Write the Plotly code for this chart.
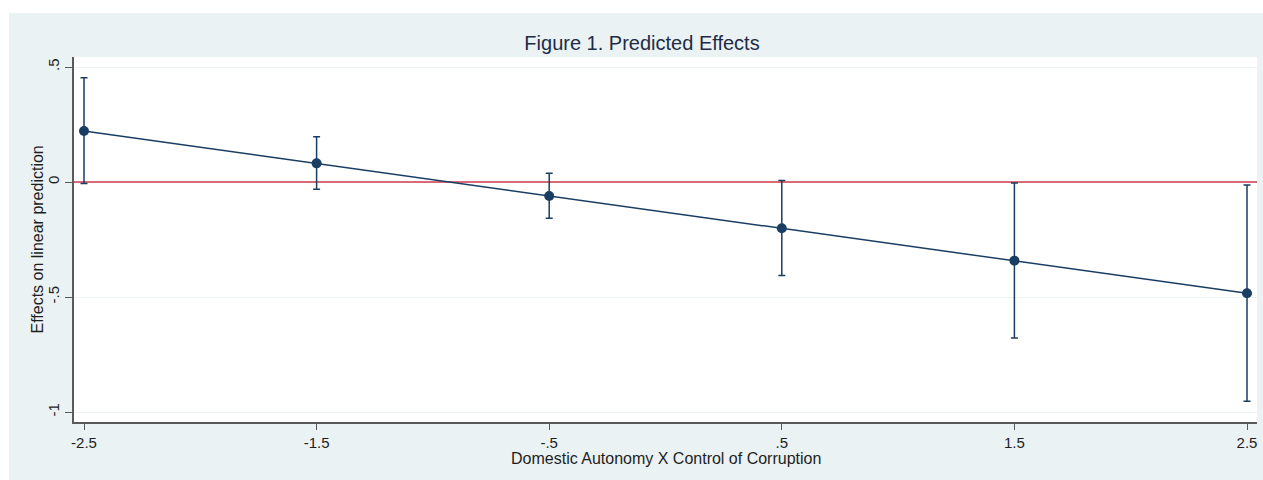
import plotly.graph_objects as go

# Marginal effects at each value of the moderator
x_vals = [-2.5, -1.5, -0.5, 0.5, 1.5, 2.5]
effects = [0.222, 0.081, -0.061, -0.201, -0.342, -0.484]
ci_upper = [0.453, 0.197, 0.038, 0.006, -0.004, -0.013]
ci_lower = [-0.006, -0.032, -0.158, -0.407, -0.678, -0.953]

x_ticks = [-2.5, -1.5, -0.5, 0.5, 1.5, 2.5]
x_tick_text = ["-2.5", "-1.5", "-.5", ".5", "1.5", "2.5"]
y_ticks = [0.5, 0, -0.5, -1]
y_tick_text = [".5", "0", "-.5", "-1"]

x_range = [-2.543, 2.543]
y_range = [-1.0435, 0.5435]

NAVY = "#1a3d63"
RED = "#cf3a4c"
BG = "#eaf2f3"
FONT = "Liberation Sans, Arial, sans-serif"
TXT = "#1e1e1e"

W, H = 1263, 480
L, R, T, B = 74, 6, 57, 58
PW, PH = W - L - R, H - T - B

err_plus = [u - e for u, e in zip(ci_upper, effects)]
err_minus = [e - l for e, l in zip(effects, ci_lower)]

fig = go.Figure()

# zero reference line
fig.add_trace(go.Scatter(
    x=x_range, y=[0, 0], mode="lines",
    line=dict(color=RED, width=1.6), hoverinfo="skip", showlegend=False,
))

fig.add_trace(go.Scatter(
    x=x_vals, y=effects, mode="lines+markers",
    line=dict(color=NAVY, width=1.5),
    marker=dict(color=NAVY, size=10),
    error_y=dict(type="data", symmetric=False, array=err_plus, arrayminus=err_minus,
                 color=NAVY, thickness=1.5, width=3.5),
    showlegend=False,
))

# white margin strips around the graph region (top and left)
fig.add_shape(type="rect", xref="paper", yref="paper",
              x0=-L / PW - 0.01, x1=(W - L) / PW + 0.01,
              y0=(H - B - 13) / PH, y1=(H - B) / PH + 0.01,
              fillcolor="white", line=dict(width=0), layer="below")
fig.add_shape(type="rect", xref="paper", yref="paper",
              x0=-L / PW - 0.01, x1=(9 - L) / PW,
              y0=-B / PH - 0.01, y1=(H - B) / PH + 0.01,
              fillcolor="white", line=dict(width=0), layer="below")

fig.update_layout(
    width=W, height=H,
    margin=dict(l=L, r=R, t=T, b=B),
    paper_bgcolor=BG, plot_bgcolor="white",
    font=dict(family=FONT, size=15, color=TXT),
    title=dict(text="Figure 1. Predicted Effects", x=642 / W, xanchor="center",
               y=1 - 43 / H, yanchor="middle",
               font=dict(family=FONT, size=20, color="#1f2c45")),
    xaxis=dict(range=x_range, tickvals=x_ticks, ticktext=x_tick_text,
               showgrid=False, zeroline=False, showline=True, linecolor="#5a5a5a",
               linewidth=1.5, ticks="outside", ticklen=6, tickcolor="#5a5a5a",
               tickfont=dict(size=15, color=TXT)),
    yaxis=dict(range=y_range, tickvals=y_ticks, ticktext=y_tick_text, tickangle=-90,
               showgrid=True, gridcolor="#edf2f4", gridwidth=1.2, zeroline=False,
               showline=True, linecolor="#5a5a5a", linewidth=1.5, ticks="outside",
               ticklen=7, tickcolor="#5a5a5a", tickfont=dict(size=15, color=TXT)),
    annotations=[
        dict(text="Domestic Autonomy X Control of Corruption", xref="paper", yref="paper",
             x=0.5, y=(H - B - 458) / PH, xanchor="center", yanchor="middle",
             showarrow=False, font=dict(family=FONT, size=16, color=TXT)),
        dict(text="Effects on linear prediction", xref="paper", yref="paper",
             x=(37 - L) / PW, y=0.5, xanchor="center", yanchor="middle",
             textangle=-90, showarrow=False,
             font=dict(family=FONT, size=16, color=TXT)),
    ],
)

fig.write_html("out.html")
